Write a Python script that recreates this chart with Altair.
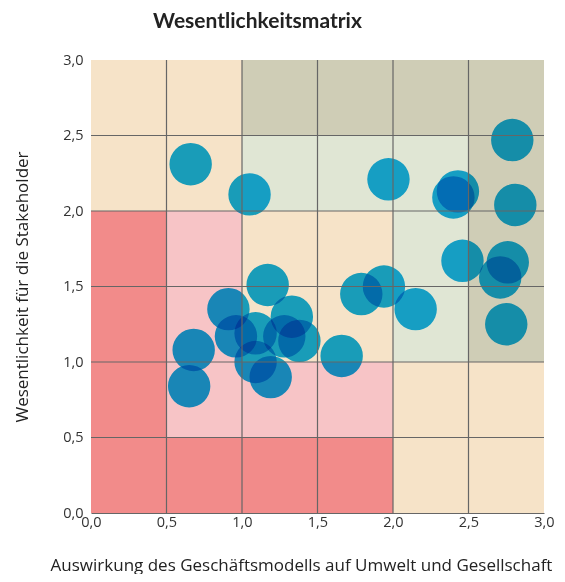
import altair as alt
import pandas as pd

# --- data -------------------------------------------------------------
# impact on environment & society (x) / relevance for stakeholders (y)
x_vals = [0.66, 1.05, 1.97, 2.43, 2.40, 2.79, 2.81, 2.46, 2.76, 2.71, 2.75,
          2.15, 1.94, 1.79, 1.66, 1.17, 0.91, 0.96, 1.09, 1.33, 1.28, 1.38,
          1.09, 1.19, 0.68, 0.65]
y_vals = [2.31, 2.11, 2.21, 2.13, 2.09, 2.47, 2.04, 1.67, 1.66, 1.56, 1.25,
          1.35, 1.50, 1.45, 1.04, 1.51, 1.35, 1.17, 1.19, 1.30, 1.17, 1.14,
          1.00, 0.90, 1.08, 0.84]

# background zones, rows from top (2.5-3.0) to bottom (0-0.5), columns 0-3 in 0.5 steps
zone_rows = [
    ["beige", "beige", "khaki", "khaki", "khaki", "khaki"],
    ["beige", "beige", "green", "green", "green", "khaki"],
    ["red",   "pink",  "beige", "beige", "green", "khaki"],
    ["red",   "pink",  "beige", "beige", "green", "khaki"],
    ["red",   "pink",  "pink",  "pink",  "beige", "beige"],
    ["red",   "red",   "red",   "red",   "beige", "beige"],
]
zone_names = ["red", "pink", "beige", "green", "khaki"]
zone_colors = ["#f28b8a", "#f7c4c6", "#f6e3c8", "#e0e6d4", "#cfcdb6"]
step = 0.5
lo, hi = 0.0, 3.0
ticks = [0, 0.5, 1.0, 1.5, 2.0, 2.5, 3.0]
grid_vals = [0.5, 1.0, 1.5, 2.0, 2.5]

cells = []
n = len(zone_rows)
for r, row in enumerate(zone_rows):
    for c, z in enumerate(row):
        y0 = (n - 1 - r) * step
        x0 = c * step
        cells.append({"x": x0, "x2": x0 + step, "y": y0, "y2": y0 + step, "zone": z})
cells_df = pd.DataFrame(cells)
pts_df = pd.DataFrame({"x": x_vals, "y": y_vals})
grid_df = pd.DataFrame({"v": grid_vals, "lo": lo, "hi": hi})

FONT = "Open Sans"
GRID = "#666666"
label_expr = "replace(format(datum.value, '.1f'), '.', ',')"

xscale = alt.Scale(domain=[lo, hi], nice=False, zero=False)
yscale = alt.Scale(domain=[lo, hi], nice=False, zero=False)

xaxis = alt.Axis(values=ticks, labelExpr=label_expr, grid=False, ticks=False,
                 domain=True, domainColor=GRID, domainWidth=1.2, labelFont=FONT,
                 labelFontSize=14.5, labelColor="#333333", labelPadding=2,
                 title="Auswirkung des Geschäftsmodells auf Umwelt und Gesellschaft",
                 titleFont=FONT, titleFontSize=17, titleFontWeight="normal",
                 titleColor="#222222", titleX=210, titleY=61, titleBaseline="bottom",
                 zindex=1, labelFlush=False)
yaxis = alt.Axis(values=ticks, labelExpr=label_expr, grid=False, ticks=False,
                 domain=False, labelFont=FONT, labelFontSize=14.5, labelColor="#333333",
                 labelPadding=8, title="Wesentlichkeit für die Stakeholder",
                 titleFont=FONT, titleFontSize=17, titleFontWeight="normal",
                 titleColor="#222222", titleX=-69, titleY=226.5, titleBaseline="middle",
                 titleAngle=270, zindex=1, labelFlush=False)

bg = alt.Chart(cells_df).mark_rect(strokeWidth=0).encode(
    x=alt.X("x:Q", scale=xscale, axis=xaxis),
    x2="x2",
    y=alt.Y("y:Q", scale=yscale, axis=yaxis),
    y2="y2",
    color=alt.Color("zone:N", scale=alt.Scale(domain=zone_names, range=zone_colors),
                    legend=None),
)

pts = alt.Chart(pts_df).mark_circle(size=1800, opacity=1, color="#19afeb",
                                    blend="multiply").encode(
    x=alt.X("x:Q", scale=xscale, axis=xaxis),
    y=alt.Y("y:Q", scale=yscale, axis=yaxis),
)

vrules = alt.Chart(grid_df).mark_rule(color=GRID, strokeWidth=1.2).encode(
    x=alt.X("v:Q", scale=xscale, axis=xaxis),
    y=alt.Y("lo:Q", scale=yscale, axis=yaxis),
    y2="hi",
)
hrules = alt.Chart(grid_df).mark_rule(color=GRID, strokeWidth=1.2).encode(
    y=alt.Y("v:Q", scale=yscale, axis=yaxis),
    x=alt.X("lo:Q", scale=xscale, axis=xaxis),
    x2="hi",
)

chart = alt.layer(bg, pts, vrules, hrules).properties(
    width=453, height=453,
    autosize=alt.AutoSizeParams(type="none"),
    padding={"left": 83, "top": 52, "right": 13, "bottom": 61},
    title=alt.TitleParams("Wesentlichkeitsmatrix", font="Lato",
                          fontSize=21, fontWeight="bold", color="#222222",
                          anchor="middle", frame="group", dx=-60, offset=20),
).configure_view(stroke=None)

chart.save("out.html", embed_options={"renderer": "svg", "actions": False})
